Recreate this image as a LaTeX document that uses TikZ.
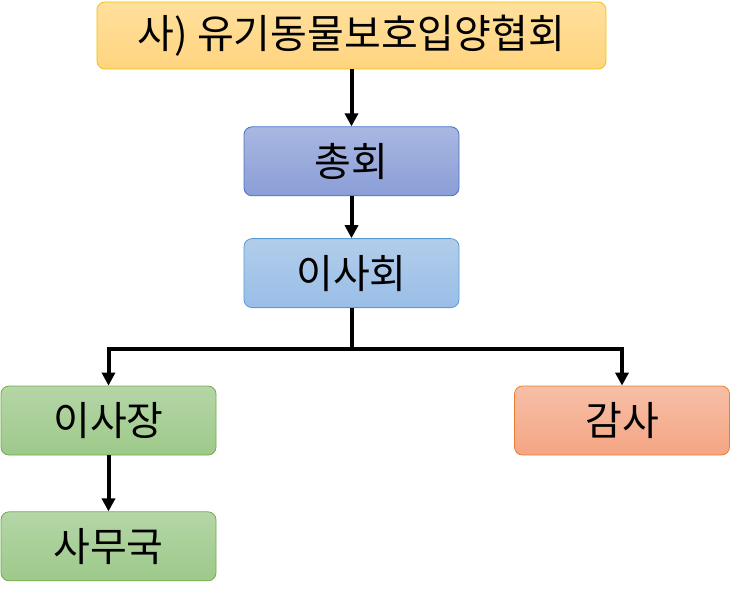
\documentclass[tikz,border=0pt]{standalone}
\usepackage{fontspec}
\setmainfont{Noto Sans CJK KR}
\usetikzlibrary{arrows.meta, positioning}

\definecolor{goldtop}{HTML}{FFE09C}
\definecolor{goldbot}{HTML}{FFD47F}
\definecolor{goldline}{HTML}{F2C200}
\definecolor{navytop}{HTML}{A9B7E1}
\definecolor{navybot}{HTML}{8A9ED7}
\definecolor{navyline}{HTML}{4472C4}
\definecolor{skytop}{HTML}{B2CDEB}
\definecolor{skybot}{HTML}{99BEE7}
\definecolor{skyline}{HTML}{5B9BD5}
\definecolor{leaftop}{HTML}{B5D6A7}
\definecolor{leafbot}{HTML}{9DC98A}
\definecolor{leafline}{HTML}{70AD47}
\definecolor{peachtop}{HTML}{F7BFA7}
\definecolor{peachbot}{HTML}{F4A583}
\definecolor{peachline}{HTML}{ED7D31}

\begin{document}
\begin{tikzpicture}[x=1pt, y=-1pt, every node/.style={font=\fontsize{40}{46}\selectfont},
    orgbox/.style={draw, rounded corners=8pt, line width=0.8pt, minimum width=215pt, minimum height=69pt, inner sep=0pt},
    link/.style={-{Triangle[length=13pt, width=13pt]}, line width=4pt}]
    \useasboundingbox (0,0) rectangle (731,590);

    \node[orgbox, minimum width=509pt, minimum height=67pt, top color=goldtop, bottom color=goldbot, draw=goldline] (assoc) at (351.5,35.5) {사) 유기동물보호입양협회};
    \node[orgbox, top color=navytop, bottom color=navybot, draw=navyline, below=57pt of assoc] (general) {총회};
    \node[orgbox, top color=skytop, bottom color=skybot, draw=skyline, below=42pt of general] (board) {이사회};
    \node[orgbox, top color=leaftop, bottom color=leafbot, draw=leafline] (chair) at (108.5,420.5) {이사장};
    \node[orgbox, top color=peachtop, bottom color=peachbot, draw=peachline] (audit) at (622,420.5) {감사};
    \node[orgbox, top color=leaftop, bottom color=leafbot, draw=leafline, below=56pt of chair] (office) {사무국};

    \coordinate (fork) at (351.5,349);

    \draw[link] (assoc) -- (general);
    \draw[link] (general) -- (board);
    \draw[line width=4pt] (board) -- (fork);
    \draw[link] (fork) -| (chair);
    \draw[link] (fork) -| (audit);
    \draw[link] (chair) -- (office);
\end{tikzpicture}
\end{document}
